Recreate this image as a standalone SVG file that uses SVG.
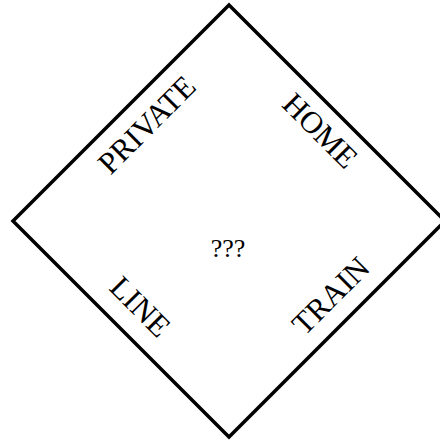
<svg xmlns="http://www.w3.org/2000/svg" width="440" height="442" viewBox="0 0 440 442">
<style>
.lbl{font-family:"Liberation Serif","DejaVu Serif",serif;font-size:31px;fill:#000;text-anchor:middle}
.mid{font-family:"Liberation Serif","DejaVu Serif",serif;font-size:26px;fill:#000;text-anchor:middle}
</style>
<rect width="440" height="442" fill="#fff"/>
<g id="diamond">
<polygon points="229,5 445,221 229,437 13,221" fill="none" stroke="#000" stroke-width="3.5"/>
</g>
<g id="private"><text class="lbl" transform="translate(147,125) rotate(-45)" x="0" y="10">PRIVATE</text></g>
<g id="home"><text class="lbl" transform="translate(320,131) rotate(45)" x="0" y="10">HOME</text></g>
<g id="line"><text class="lbl" transform="translate(140,307) rotate(45)" x="0" y="10">LINE</text></g>
<g id="train"><text class="lbl" transform="translate(331,296) rotate(-45)" x="0" y="10">TRAIN</text></g>
<g id="center"><text class="mid" x="228" y="257">???</text></g>
</svg>
